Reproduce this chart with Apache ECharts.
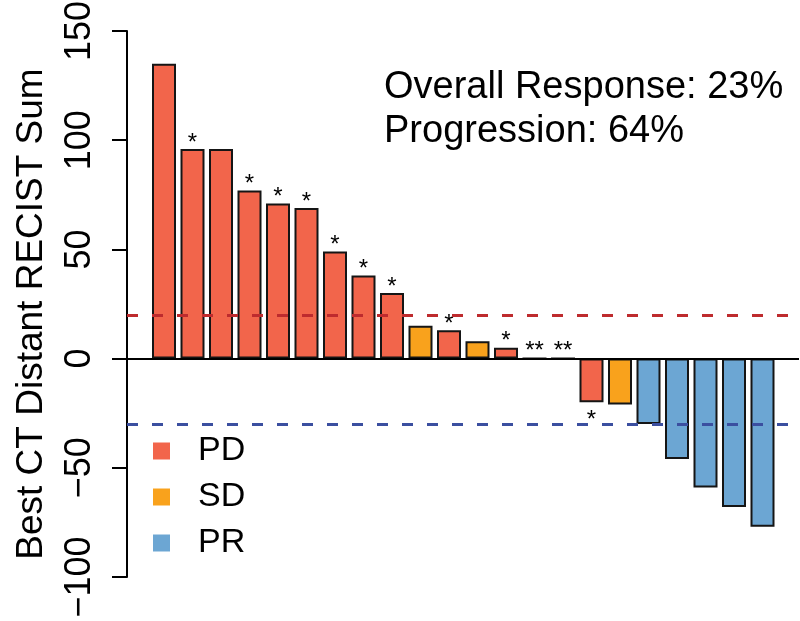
<!DOCTYPE html>
<html>
<head>
<meta charset="utf-8">
<script src="https://cdn.jsdelivr.net/npm/echarts@6/dist/echarts.min.js"></script>
<style>html,body{margin:0;padding:0;background:#fff}#c{width:800px;height:621px}</style>
</head>
<body>
<div id="c"></div>
<script>
// ---- data ----
var values = [135, 96, 96, 77, 71, 69, 49, 38, 30, 15, 13, 8, 5, 0, 0, -20, -21, -30, -46, -59, -68, -77];
var outcome = ['PD','PD','PD','PD','PD','PD','PD','PD','PD','SD','PD','SD','PD','PD','PD','PD','SD','PR','PR','PR','PR','PR'];
var marks  = ['','*','','*','*','*','*','*','*','','*','','*','**','**','*','','','','','',''];
var groups = ['PD', 'SD', 'PR'];
var yTicks = [-100, -50, 0, 50, 100, 150];
var progressionLine = 20;
var responseLine = -30;
var annotation = ['Overall Response: 23%', 'Progression: 64%'];
var yTitle = 'Best CT Distant RECIST Sum';

var colors = { PD: '#F2654B', SD: '#F9A21C', PR: '#6CA6D3' };
var FONT = 'Liberation Sans, Arial, Helvetica, sans-serif';

var categories = values.map(function (v, i) { return 'P' + (i + 1); });

var chart = echarts.init(document.getElementById('c'), null, { renderer: 'canvas' });

function buildSeries(g) {
  var data = [];
  for (var i = 0; i < values.length; i++) {
    if (outcome[i] !== g) { data.push('-'); continue; }
    var item = { value: values[i] };
    if (marks[i]) {
      var neg = values[i] < 0;
      item.label = {
        show: true,
        formatter: marks[i],
        position: neg ? 'bottom' : 'top',
        distance: neg ? 4 : 0,
        offset: neg ? [0, 2] : [0, 6]
      };
    }
    data.push(item);
  }
  return {
    name: g,
    type: 'bar',
    xAxisIndex: 0,
    yAxisIndex: 0,
    barWidth: 24,
    barGap: '-100%',
    data: data,
    itemStyle: { color: colors[g], borderColor: '#151515', borderWidth: 2 },
    label: { show: false, color: '#000', fontSize: 24, fontFamily: FONT },
    emphasis: { disabled: true },
    z: 2
  };
}

var series = groups.map(buildSeries);
series.push({
  name: 'lines',
  type: 'line',
  xAxisIndex: 1,
  yAxisIndex: 1,
  data: [],
  z: 5,
  markLine: {
    silent: true,
    symbol: ['none', 'none'],
    label: { show: false },
    animation: false,
    data: [
      { yAxis: 0, lineStyle: { color: '#000', width: 2, type: 'solid' } },
      { yAxis: progressionLine, lineStyle: { color: '#BE2B2E', width: 3, type: [11, 14] } },
      { yAxis: responseLine, lineStyle: { color: '#3B4FA0', width: 3, type: [11, 14] } }
    ]
  }
});

chart.setOption({
  animation: false,
  backgroundColor: '#fff',
  textStyle: { fontFamily: FONT },
  grid: [
    { left: 149.75, right: 23.25, top: 31, bottom: 44, containLabel: false, outerBoundsMode: 'none' },
    { left: 127, right: 1, top: 31, bottom: 44, containLabel: false, outerBoundsMode: 'none' }
  ],
  title: {
    text: annotation.join('\n'),
    left: 384,
    top: 66,
    padding: 0,
    textStyle: { fontSize: 38, fontWeight: 'normal', color: '#000', lineHeight: 44, fontFamily: FONT }
  },
  legend: {
    data: groups,
    orient: 'vertical',
    left: 153,
    top: 431,
    padding: 0,
    itemWidth: 17,
    itemHeight: 17,
    itemGap: 6,
    icon: 'rect',
    itemStyle: { borderWidth: 0 },
    textStyle: { fontSize: 34, color: '#000', lineHeight: 40, padding: [0, 0, 0, 23], fontFamily: FONT },
    selectedMode: false
  },
  xAxis: [
    { type: 'category', gridIndex: 0, data: categories, show: false, boundaryGap: true },
    { type: 'value', gridIndex: 1, min: 0, max: 1, show: false }
  ],
  yAxis: [
    {
      type: 'value', gridIndex: 0,
      min: yTicks[0], max: yTicks[yTicks.length - 1], interval: 50,
      show: false
    },
    {
      type: 'value', gridIndex: 1,
      min: yTicks[0], max: yTicks[yTicks.length - 1], interval: 50,
      name: yTitle,
      nameLocation: 'middle',
      nameRotate: 90,
      nameGap: 77,
      nameTextStyle: { fontSize: 37, color: '#000', fontFamily: FONT, padding: [0, 20, 0, 0] },
      axisLine: { show: true, onZero: false, lineStyle: { color: '#000', width: 2 } },
      axisTick: { show: true, length: 15, lineStyle: { color: '#000', width: 2 } },
      axisLabel: {
        rotate: 90, fontSize: 36, color: '#000', margin: 29, fontFamily: FONT,
        formatter: function (v) { return v < 0 ? '\u2212' + Math.abs(v) : String(v); }
      },
      splitLine: { show: false }
    }
  ],
  series: series
});
</script>
</body>
</html>
